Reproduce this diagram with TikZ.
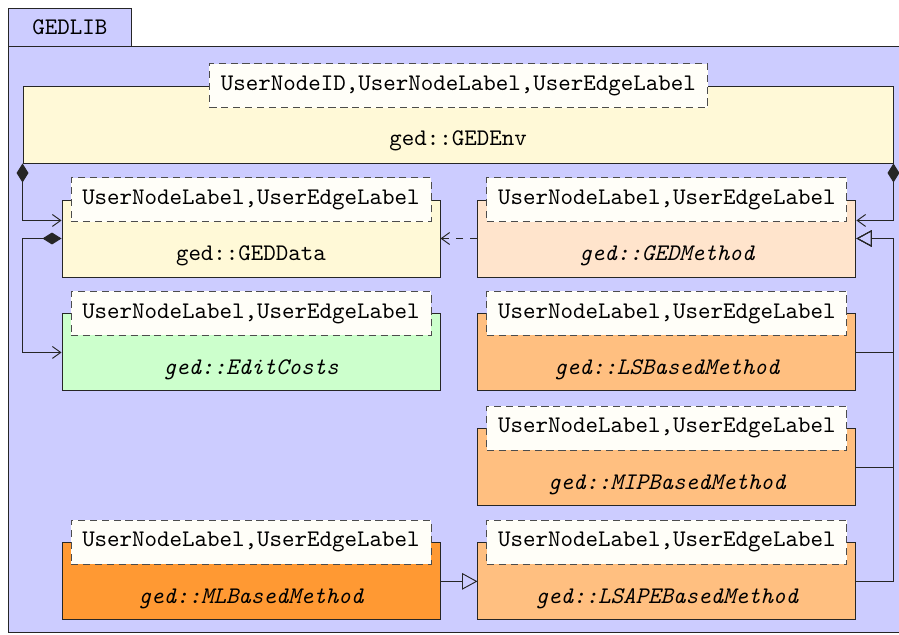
\documentclass[tikz,border=0pt]{standalone}
\usepackage{tikz}
\usetikzlibrary{arrows.meta}
\usetikzlibrary{calc}
\usetikzlibrary{positioning}

\definecolor{pkgblue}{RGB}{204,204,255}
\definecolor{envyellow}{RGB}{255,249,215}
\definecolor{costgreen}{RGB}{204,255,204}
\definecolor{methbisque}{RGB}{255,228,204}
\definecolor{lsorange}{RGB}{255,191,128}
\definecolor{mlorange}{RGB}{255,153,51}
\definecolor{tmplwhite}{RGB}{255,254,248}

\begin{document}
\begin{tikzpicture}[x=0.42pt,y=-0.42pt,font=\ttfamily,
    pkg/.style={draw=black!85,thin,fill=pkgblue,inner sep=0pt},
    cls/.style={draw=black!85,thin,minimum width=158.76pt,minimum height=32.34pt,inner sep=0pt},
    tmpl/.style={draw=black!70,thin,dash pattern=on 3pt off 2pt,fill=tmplwhite,minimum width=151.2pt,minimum height=18.48pt,inner sep=0pt},
    abstr/.style={font=\ttfamily\itshape},
    compose/.style={draw=black!85,thin,{Diamond[length=8pt,width=5pt]}-{Straight Barb[length=3.5pt,width=5pt]}},
    depend/.style={draw=black!85,thin,dash pattern=on 3pt off 3pt,-{Straight Barb[length=3.5pt,width=5pt]}},
    inherit/.style={draw=black!85,thin,-{Triangle[open,length=6.5pt,width=7pt]}}]
  \useasboundingbox (0,0) rectangle (899,635);

  % package
  \node[pkg,anchor=north west,minimum width=378pt,minimum height=246.12pt] (gedlib) at (8,46) {};
  \node[pkg,anchor=north west,minimum width=51.66pt,minimum height=15.96pt] (tab) at (8,8) {GEDLIB};

  % environment
  \node[cls,fill=envyellow,minimum width=365.4pt] (env) at (458,124.5) {};
  \node[tmpl,minimum width=209.2pt] (envtmpl) at ([xshift=0.2pt]env.north) {UserNodeID,UserNodeLabel,UserEdgeLabel};
  \node (envname) at ([yshift=-6.8pt]env.center) {ged::GEDEnv};

  % classes
  \node[cls,fill=envyellow] (data) at (251,238.5) {};
  \node[cls,fill=methbisque,right=15.54pt of data] (method) {};
  \node[cls,fill=costgreen,below=15.12pt of data] (costs) {};
  \node[cls,fill=lsorange,below=15.12pt of method] (ls) {};
  \node[cls,fill=lsorange,below=15.54pt of ls] (mip) {};
  \node[cls,fill=lsorange,below=15.12pt of mip] (lsape) {};
  \node[cls,fill=mlorange,left=15.54pt of lsape] (ml) {};

  \node[tmpl] (datatmpl) at (data.north) {UserNodeLabel,UserEdgeLabel};
  \node[tmpl] (methodtmpl) at (method.north) {UserNodeLabel,UserEdgeLabel};
  \node[tmpl] (coststmpl) at (costs.north) {UserNodeLabel,UserEdgeLabel};
  \node[tmpl] (lstmpl) at (ls.north) {UserNodeLabel,UserEdgeLabel};
  \node[tmpl] (miptmpl) at (mip.north) {UserNodeLabel,UserEdgeLabel};
  \node[tmpl] (lsapetmpl) at (lsape.north) {UserNodeLabel,UserEdgeLabel};
  \node[tmpl] (mltmpl) at (ml.north) {UserNodeLabel,UserEdgeLabel};

  \node (dataname) at ([yshift=-7.3pt]data.center) {ged::GEDData};
  \node[abstr] (methodname) at ([yshift=-7.3pt]method.center) {ged::GEDMethod};
  \node[abstr] (costsname) at ([yshift=-7.3pt]costs.center) {ged::EditCosts};
  \node[abstr] (lsname) at ([yshift=-7.3pt]ls.center) {ged::LSBasedMethod};
  \node[abstr] (mipname) at ([yshift=-7.3pt]mip.center) {ged::MIPBasedMethod};
  \node[abstr] (lsapename) at ([yshift=-7.3pt]lsape.center) {ged::LSAPEBasedMethod};
  \node[abstr] (mlname) at ([yshift=-7.3pt]ml.center) {ged::MLBasedMethod};

  % connectors
  \coordinate (datain) at ([yshift=-8.8pt]data.north west);
  \coordinate (methodin) at ([yshift=-8.8pt]method.north east);
  \draw[compose] (env.south west) |- (datain);
  \draw[compose] (env.south east) |- (methodin);
  \draw[compose] (data.west) -- (data.west -| env.south west) |- (costs.west);
  \draw[depend] (method.west) -- (data.east);
  \draw[inherit] (ls.east) -- (ls.east -| env.south east) |- (method.east);
  \draw[inherit] (mip.east) -- (mip.east -| env.south east) |- (method.east);
  \draw[inherit] (lsape.east) -- (lsape.east -| env.south east) |- (method.east);
  \draw[inherit] (ml.east) -- (lsape.west);
\end{tikzpicture}
\end{document}
